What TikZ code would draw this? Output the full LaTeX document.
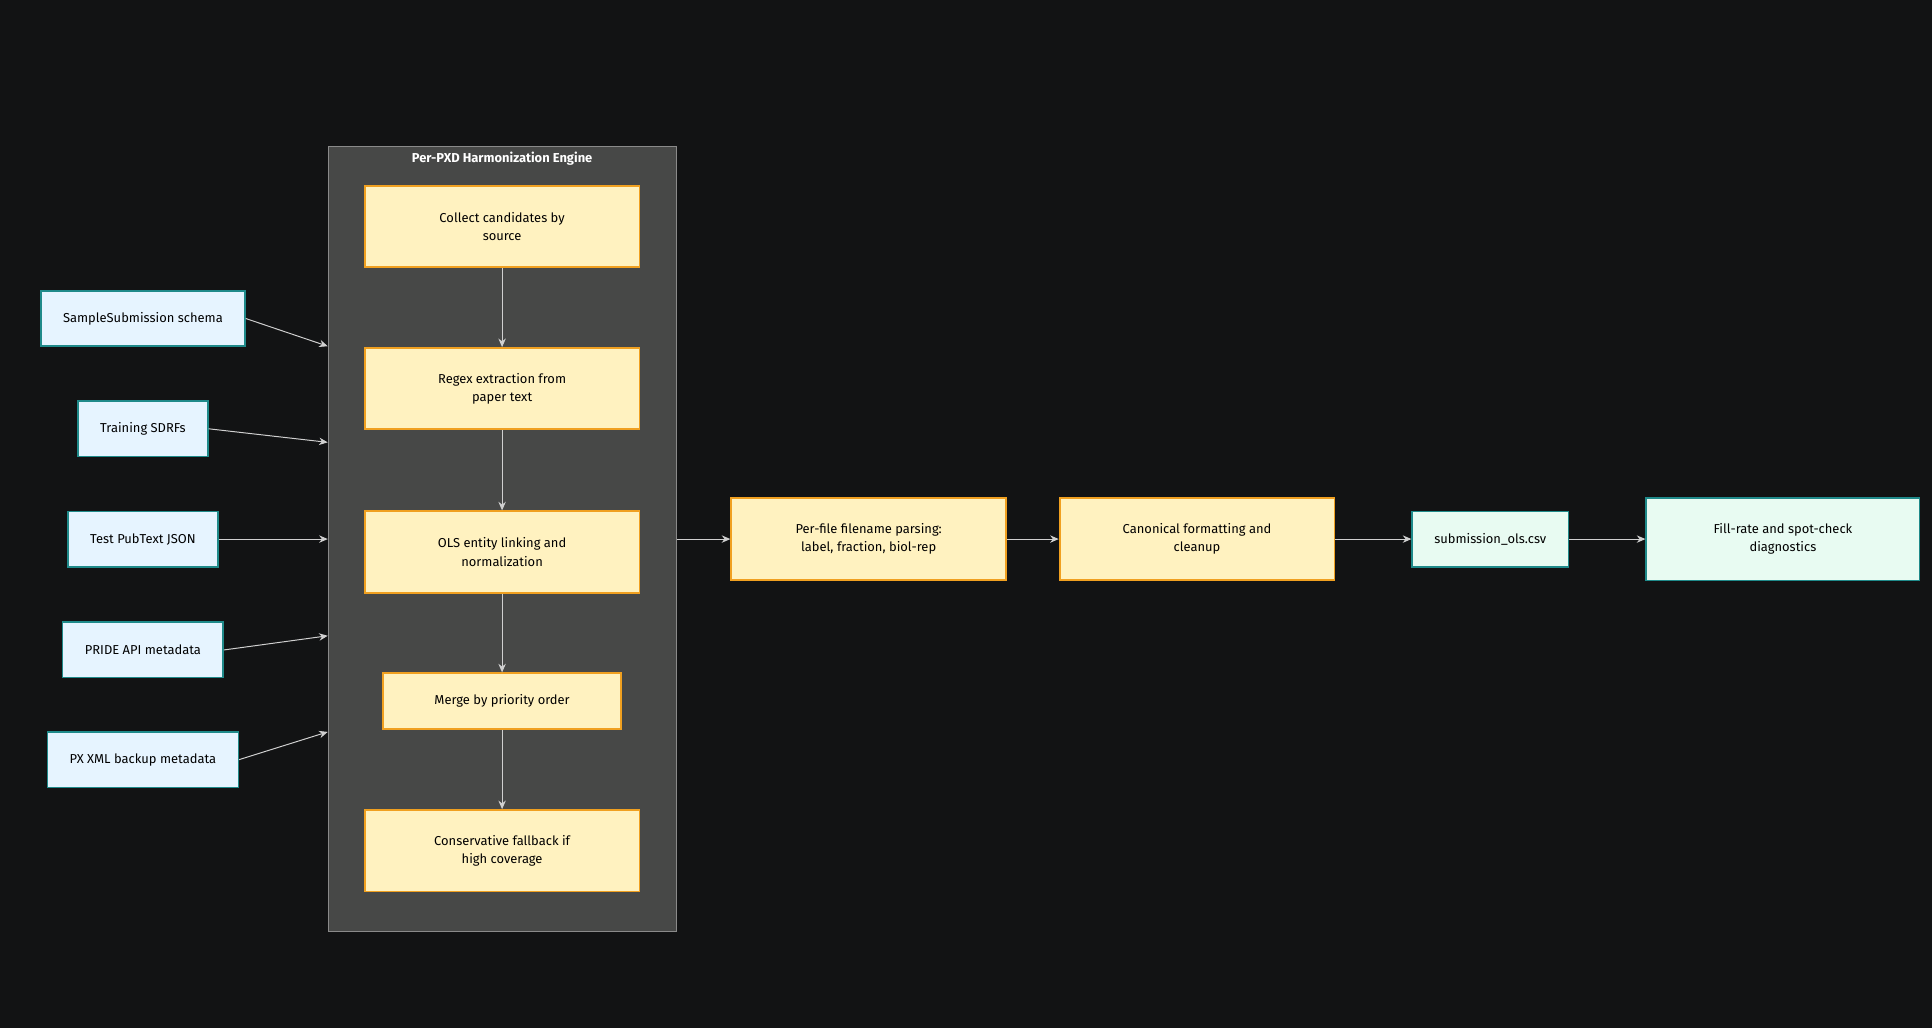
\documentclass[tikz,border=0pt]{standalone}
\usepackage{fontspec}
\setmainfont{Fira Sans}
\usetikzlibrary{arrows.meta,positioning,calc}
\definecolor{bgc}{HTML}{121314}
\definecolor{clfill}{HTML}{474847}
\definecolor{clline}{HTML}{8A8A8A}
\definecolor{stepfill}{HTML}{FFF2C0}
\definecolor{stepline}{HTML}{F0A020}
\definecolor{srcfill}{HTML}{E6F4FF}
\definecolor{srcline}{HTML}{1F8A8A}
\definecolor{outfill}{HTML}{E8FBF2}
\definecolor{edgec}{HTML}{D0D0D0}
\tikzstyle{stage}=[draw=stepline, fill=stepfill, line width=1.5pt, align=center, font=\fontsize{10.5}{15}\selectfont, minimum width=223pt, minimum height=66pt]
\tikzstyle{source}=[draw=srcline, fill=srcfill, line width=1.2pt, align=center, font=\fontsize{10.5}{15}\selectfont, minimum height=45pt, inner xsep=18pt]
\tikzstyle{output}=[source, fill=outfill]
\tikzstyle{edge}=[draw=edgec, line width=0.8pt, -{Stealth[length=7pt,width=6pt]}]

\begin{document}
\begin{tikzpicture}[x=1pt, y=-1pt]
	\fill[bgc] (0,0) rectangle (1568,834);
	\useasboundingbox (0,0) rectangle (1568,834);
	% harmonization cluster
	\node[draw=clline, fill=clfill, minimum width=283pt, minimum height=637pt, inner sep=0pt] (engine) at (407.5,437.5) {};
	\node[text=white, font=\bfseries\fontsize{10.5}{12}\selectfont] (engineTitle) at (407.5,129) {Per-PXD Harmonization Engine};
	\node[stage] (collect) at (407.5,184) {Collect candidates by\\source};
	\node[stage] (regex) at (407.5,315.5) {Regex extraction from\\paper text};
	\node[stage] (ols) at (407.5,448) {OLS entity linking and\\normalization};
	\node[stage, minimum width=193pt, minimum height=45pt] (merge) at (407.5,569) {Merge by priority order};
	\node[stage] (fallback) at (407.5,690.5) {Conservative fallback if\\high coverage};
	\foreach \source/\dest in {collect/regex, regex/ols, ols/merge, merge/fallback}
		\path[edge] (\source) -- (\dest);
	% inputs
	\foreach \pos/\name/\txt in {{(116,258.5)/schema/SampleSubmission schema}, {(116,348)/sdrf/Training SDRFs},
				{(116,437.5)/pubtext/Test PubText JSON}, {(116,527.5)/pride/PRIDE API metadata},
				{(116,616.5)/pxxml/PX XML backup metadata}}
		\node[source] (\name) at \pos {\txt};
	\foreach \name/\y in {schema/281, sdrf/359, pubtext/437.5, pride/516, pxxml/594}
		\coordinate (\name In) at (266,\y);
	\foreach \name in {schema, sdrf, pride, pxxml}
		\path[edge] (\name.east) .. controls ($(\name.east)!0.5!(\name In)$ |- \name.east) and ($(\name.east)!0.5!(\name In)$ |- \name In) .. (\name In);
	\path[edge] (pubtext) -- (pubtextIn);
	% downstream
	\node[stage, minimum height=67pt] (perfile) at (705,437.5) {Per-file filename parsing:\\label, fraction, biol-rep};
	\node[stage, minimum height=67pt] (canon) at (971.5,437.5) {Canonical formatting and\\cleanup};
	\node[output] (csv) at (1209.5,437.5) {submission\_ols.csv};
	\node[output, minimum width=222pt, minimum height=67pt] (diag) at (1447,437.5) {Fill-rate and spot-check\\diagnostics};
	\path[edge] (engine.east |- perfile) -- (perfile);
	\foreach \source/\dest in {perfile/canon, canon/csv, csv/diag}
		\path[edge] (\source) -- (\dest);
\end{tikzpicture}
\end{document}
